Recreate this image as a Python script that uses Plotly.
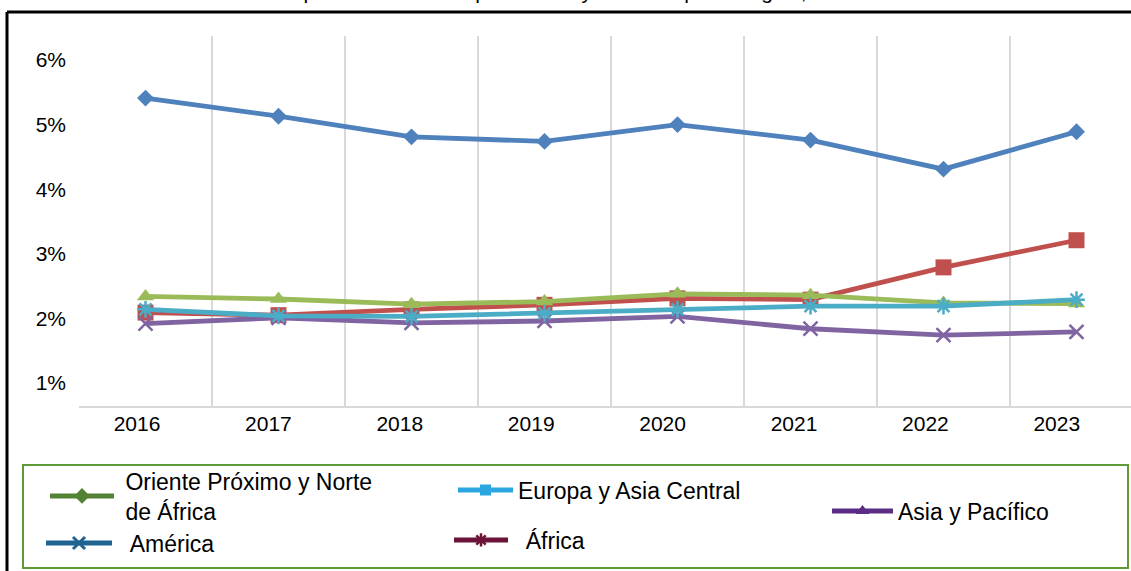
import plotly.graph_objects as go

# ---------------- data ----------------
years = [2016, 2017, 2018, 2019, 2020, 2021, 2022, 2023]
year_labels = ["2016", "2017", "2018", "2019", "2020", "2021", "2022", "2023"]

oriente = [5.41, 5.13, 4.81, 4.74, 5.00, 4.76, 4.31, 4.89]
europa = [2.09, 2.05, 2.14, 2.21, 2.31, 2.29, 2.79, 3.21]
asia_pacifico = [2.34, 2.30, 2.22, 2.26, 2.38, 2.36, 2.24, 2.23]
america = [1.92, 2.01, 1.93, 1.96, 2.03, 1.84, 1.74, 1.79]
africa = [2.14, 2.04, 2.03, 2.08, 2.14, 2.19, 2.19, 2.29]

y_ticks = [1, 2, 3, 4, 5, 6]
y_tick_labels = ["1%", "2%", "3%", "4%", "5%", "6%"]

legend_labels = ["Oriente Próximo y Norte<br>de África", "América",
                 "Europa y Asia Central", "África", "Asia y Pacífico"]

title_text = "Gasto militar: peso medio anual ponderado y mediano por la región, 2016-2023"

# ---------------- geometry helpers ----------------
W, H = 1131, 571
ML, MR, MT, MB = 79, 0, 36, 165
PW, PH = W - ML - MR, H - MT - MB


def px_x(px):
    return (px - ML) / PW


def px_y(py):
    return (H - MB - py) / PH


FONT = "Liberation Sans, Arial, sans-serif"
NB = "\u00a0"

fig = go.Figure()

series = [
    (legend_labels[0], oriente, "#4F81BD", "diamond", 13, None),
    (legend_labels[2], europa, "#C0504D", "square", 16, None),
    (legend_labels[4], asia_pacifico, "#9BBB59", "triangle-up", 15, None),
    (legend_labels[1], america, "#8064A2", "x-thin-open", 14, 2.5),
    (legend_labels[3], africa, "#4BACC6", "asterisk-open", 14, 2.5),
]
for name, vals, col, sym, size, mlw in series:
    marker = dict(symbol=sym, size=size, color=col)
    if mlw:
        marker["line"] = dict(color=col, width=mlw)
    clean = name.replace("<br>", " ")
    fig.add_trace(go.Scatter(
        x=years, y=vals, name=clean, mode="lines+markers",
        line=dict(color=col, width=4.8), marker=marker, showlegend=False,
        hovertemplate="%{x}: %{y:.2f}%<extra>" + clean + "</extra>",
    ))

# legend entries (styled as in the reference key)
# (legend id, label, colour, symbol, size, marker line, itemwidth, legend left px, centre y px, indent)
leg_specs = [
    ("legend", legend_labels[0], "#548235", "diamond", 12, None, 64, 45, 496, 1),
    ("legend2", legend_labels[1], "#1F6391", "x-thin-open", 12, 3, 66, 41, 543, 2),
    ("legend3", legend_labels[2], "#2AA7E0", "square", 11, None, 55, 453, 490, 0),
    ("legend4", legend_labels[3], "#6B1338", "asterisk-open", 11, 2.5, 54, 449, 540, 2),
    ("legend5", legend_labels[4], "#5B2C86", "triangle-up", 12, None, 61, 827, 511, 0),
]
for lg, name, col, sym, size, mlw, iw, x0, yc, ind in leg_specs:
    marker = dict(symbol=sym, size=size, color=col)
    if mlw:
        marker["line"] = dict(color=col, width=mlw)
    shown = "<br>".join(NB * ind + part for part in name.split("<br>"))
    fig.add_trace(go.Scatter(
        x=[None], y=[None], name=shown, mode="lines+markers",
        line=dict(color=col, width=5), marker=marker, legend=lg, showlegend=True,
    ))
    fig.update_layout({lg: dict(
        x=px_x(x0), xanchor="left", y=px_y(yc), yanchor="middle",
        bgcolor="rgba(0,0,0,0)", borderwidth=0, itemwidth=iw,
        font=dict(family=FONT, size=23, color="#000000"),
        itemclick=False, itemdoubleclick=False,
    )})

fig.update_layout(
    width=W, height=H,
    margin=dict(l=ML, r=MR, t=MT, b=MB, autoexpand=False),
    paper_bgcolor="white", plot_bgcolor="white",
    font=dict(family=FONT, size=21, color="#000000"),
    xaxis=dict(
        range=[2015.5, 2015.5 + PW / 133.0], tick0=2015.5, dtick=1,
        showticklabels=False, ticks="", showgrid=True, gridcolor="#D9D9D9", gridwidth=2,
        showline=True, linecolor="#D9D9D9", linewidth=2, zeroline=False, fixedrange=True,
    ),
    xaxis2=dict(
        overlaying="x", anchor="y", side="bottom",
        range=[2016 - 58 / 131.4, 2016 + (W - 137) / 131.4],
        tickmode="array", tickvals=years, ticktext=year_labels, ticks="",
        showgrid=False, showline=False, zeroline=False, ticklabelstandoff=3,
        tickfont=dict(family=FONT, size=21, color="#000000"), fixedrange=True,
    ),
    yaxis=dict(
        range=[1 - 23 / 64.6, 6 + 24 / 64.6], tickmode="array", tickvals=y_ticks,
        ticktext=y_tick_labels, ticks="", showgrid=False, showline=False, zeroline=False,
        ticklabelstandoff=12, tickfont=dict(family=FONT, size=21, color="#000000"),
        fixedrange=True,
    ),
    shapes=[
        # outer frame (left and top edges visible)
        dict(type="line", xref="paper", yref="paper", x0=px_x(7), x1=px_x(7),
             y0=px_y(12), y1=px_y(H + 10), line=dict(color="#000000", width=3)),
        dict(type="line", xref="paper", yref="paper", x0=px_x(7), x1=px_x(W + 10),
             y0=px_y(12), y1=px_y(12), line=dict(color="#000000", width=3)),
        # legend box
        dict(type="rect", xref="paper", yref="paper", x0=px_x(23), x1=px_x(1128),
             y0=px_y(465), y1=px_y(568), line=dict(color="#5E9A36", width=2),
             fillcolor="rgba(0,0,0,0)"),
    ],
    annotations=[
        dict(text=title_text, xref="paper", yref="paper", x=px_x(172), xanchor="left",
             y=px_y(4.5), yanchor="bottom", showarrow=False,
             font=dict(family=FONT, size=21, color="#000000")),
    ],
)

# attach a hidden trace so the label axis is rendered
fig.add_trace(go.Scatter(x=years, y=[None] * len(years), xaxis="x2", yaxis="y",
                         mode="markers", showlegend=False, hoverinfo="skip"))

fig.write_html(
    "out.html",
    config={"displayModeBar": False},
    post_script="document.body.style.margin='0';document.body.style.overflow='hidden';",
)
